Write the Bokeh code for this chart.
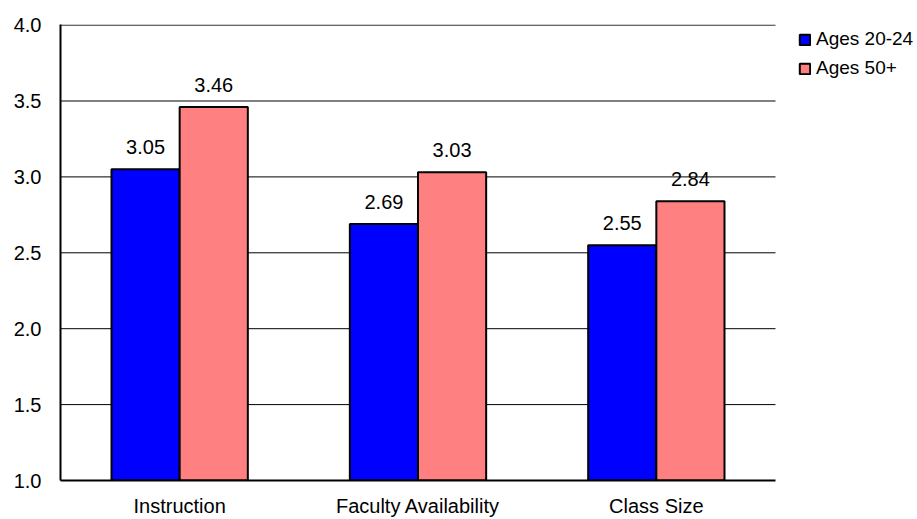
from bokeh.plotting import figure
from bokeh.models import ColumnDataSource, Range1d, FixedTicker, Legend, LegendItem, LabelSet
from bokeh.core.properties import value
from bokeh.embed import file_html
from bokeh.resources import INLINE

categories = ["Instruction", "Faculty Availability", "Class Size"]
ages_20_24 = [3.05, 2.69, 2.55]
ages_50_plus = [3.46, 3.03, 2.84]
y_ticks = [1.0, 1.5, 2.0, 2.5, 3.0, 3.5, 4.0]

FONT = "Liberation Sans"
FS = "20px"
BAR_W = 0.286
W, H = 917, 519
LEFT, RIGHT_DATA, TOP, BOTTOM = 60, 775, 24, 38

n = len(categories)
frame_w = W - LEFT
x_end = n * frame_w / (RIGHT_DATA - LEFT)

p = figure(width=W, height=H, output_backend="svg", toolbar_location=None,
           x_range=Range1d(0, x_end), y_range=Range1d(1.0, 4.004),
           min_border_left=LEFT, min_border_right=0, min_border_top=TOP, min_border_bottom=BOTTOM)
p.outline_line_color = None
p.background_fill_color = "white"

# horizontal grid lines limited to the category area
gy = y_ticks[1:]
p.segment(x0=[0] * len(gy), x1=[n] * len(gy), y0=gy, y1=gy, line_color="black", line_width=1)

xc = [i + 0.5 for i in range(n)]
x1 = [c - BAR_W / 2 for c in xc]
x2 = [c + BAR_W / 2 for c in xc]
src1 = ColumnDataSource(dict(x=x1, top=ages_20_24, lab=[f"{v:.2f}" for v in ages_20_24]))
src2 = ColumnDataSource(dict(x=x2, top=ages_50_plus, lab=[f"{v:.2f}" for v in ages_50_plus]))

r1 = p.vbar(x="x", top="top", bottom=1.0, width=BAR_W, source=src1,
            fill_color="#0000FF", line_color="black", line_width=2)
r2 = p.vbar(x="x", top="top", bottom=1.0, width=BAR_W, source=src2,
            fill_color="#FF8080", line_color="black", line_width=2)

for s in (src1, src2):
    p.add_layout(LabelSet(x="x", y="top", text="lab", source=s, y_offset=15,
                          text_align="center", text_baseline="bottom",
                          text_font=value(FONT), text_font_size=value(FS), text_color="black"))

p.xaxis.ticker = FixedTicker(ticks=xc)
p.xaxis.major_label_overrides = {c: nm for c, nm in zip(xc, categories)}
p.xaxis.bounds = (0, n)
p.yaxis.ticker = FixedTicker(ticks=y_ticks)
p.yaxis.major_label_overrides = {t: f"{t:.1f}" for t in y_ticks}

for ax in (p.xaxis, p.yaxis):
    ax.major_tick_out = 0
    ax.major_tick_in = 0
    ax.minor_tick_out = 0
    ax.minor_tick_in = 0
    ax.axis_line_color = "black"
    ax.axis_line_width = 2
    ax.major_label_text_font = FONT
    ax.major_label_text_font_size = FS
    ax.major_label_text_color = "black"
p.yaxis.major_label_standoff = 19
p.xaxis.major_label_standoff = 14

p.xgrid.grid_line_color = None
p.ygrid.grid_line_color = None

legend = Legend(items=[LegendItem(label="Ages 20-24", renderers=[r1]),
                       LegendItem(label="Ages 50+", renderers=[r2])],
                location=(738, 401), orientation="vertical")
legend.border_line_color = None
legend.background_fill_alpha = 0
legend.padding = 0
legend.margin = 0
legend.glyph_width = 13
legend.glyph_height = 13
legend.label_height = 22
legend.spacing = 7
legend.label_standoff = 5
legend.label_text_font = FONT
legend.label_text_font_size = "19px"
legend.label_text_color = "black"
p.add_layout(legend, "center")

open("out.html", "w").write(file_html(p, INLINE))
